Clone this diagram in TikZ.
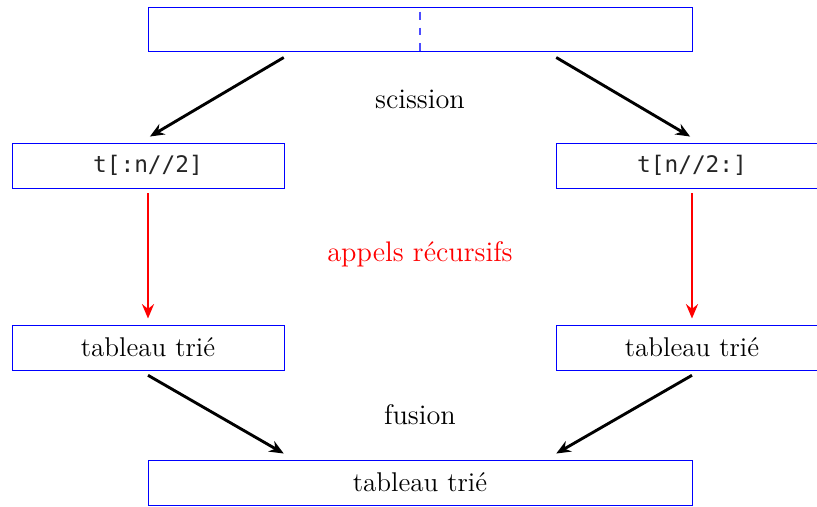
\documentclass[tikz,border=0pt]{standalone}
\usepackage{fontspec}
\newfontfamily\codefont{DejaVu Sans Mono}
\usetikzlibrary{arrows.meta,calc}
\tikzset{
  box/.style={draw=blue, line width=0.4pt, inner sep=0pt, minimum width=113.33pt, minimum height=18.75pt, font=\fontsize{11.3}{13}\selectfont},
  wide/.style={box, minimum width=226.67pt, minimum height=18.33pt},
  code/.style={font=\codefont\fontsize{9.5}{11}\selectfont, text=black!85},
  arr/.style={-{Stealth[length=6pt,width=5pt,inset=2pt]}, line width=1.2pt, black},
  rarr/.style={arr, red},
  lbl/.style={font=\fontsize{11.8}{14}\selectfont}
}
\begin{document}
\begin{tikzpicture}[x=0.41667pt,y=-0.41667pt]
\useasboundingbox (0,0) rectangle (817,506);
\clip (0,0) rectangle (817,506);
\node[wide] (top) at (420,29) {};
\draw[blue!70, line width=0.6pt, dash pattern=on 3.33pt off 3.33pt] ([yshift=-2.08pt]top.north) -- (top.south);
\node[box, code] (l1) at (148,165.5) {t[:n//2]};
\node[box, code] (r1) at (692,165.5) {t[n//2:]};
\node[box] (l2) at (148,347.5) {tableau trié};
\node[box] (r2) at (692,347.5) {tableau trié};
\node[wide, minimum height=18.75pt] (bot) at (420,482.5) {tableau trié};
\node[lbl] (sc) at (420,99) {scission};
\node[lbl, text=red] (rec) at (420,254) {appels récursifs};
\node[lbl] (fu) at (420,415) {fusion};
\coordinate (tl) at ($(top.south)!.5!(top.south west)$);
\coordinate (tr) at ($(top.south)!.5!(top.south east)$);
\coordinate (bl) at ($(bot.north)!.5!(bot.north west)$);
\coordinate (br) at ($(bot.north)!.5!(bot.north east)$);
\draw[arr] ([yshift=-2.5pt]tl) -- ([xshift=0.8pt,yshift=2.5pt]l1.north);
\draw[arr] ([yshift=-2.5pt]tr) -- ([xshift=-0.8pt,yshift=2.5pt]r1.north);
\draw[rarr] ([yshift=-2pt]l1.south) -- ([yshift=2.5pt]l2.north);
\draw[rarr] ([yshift=-2pt]r1.south) -- ([yshift=2.5pt]r2.north);
\draw[arr] ([yshift=-2pt]l2.south) -- ([yshift=2.5pt]bl);
\draw[arr] ([yshift=-2pt]r2.south) -- ([yshift=2.5pt]br);
\end{tikzpicture}
\end{document}
